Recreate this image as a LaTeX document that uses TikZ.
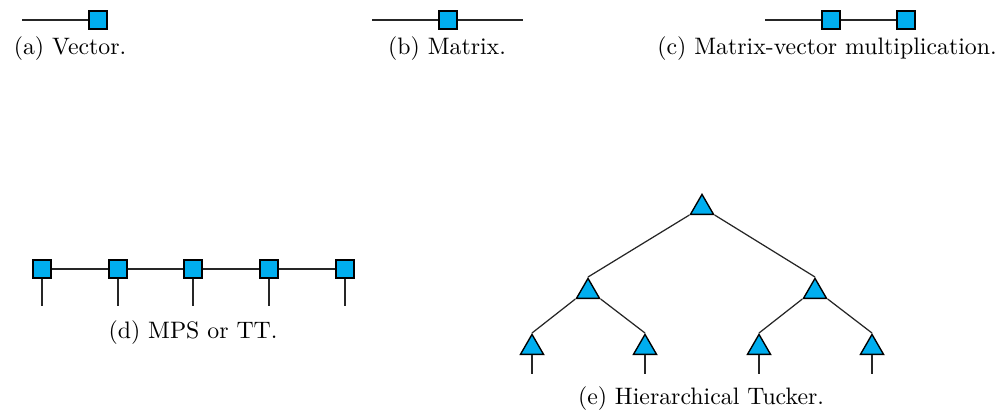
\documentclass[tikz,border=0pt]{standalone}
\usepackage{graphicx}
\usetikzlibrary{shapes.geometric}
\definecolor{tcyan}{RGB}{0,174,239}
\tikzset{
  tensor/.style={draw=black, fill=tcyan, line width=0.5pt, minimum size=6.5pt, inner sep=0pt, rectangle},
  htnode/.style={draw=black, fill=tcyan, line width=0.5pt, regular polygon, regular polygon sides=3, minimum size=9.7pt, inner sep=0pt},
  leg/.style={line width=0.45pt, black!85},
  captext/.style={inner sep=0pt, anchor=base}
}
\newcommand{\captxt}[1]{\scalebox{0.865}{#1}}
\begin{document}
\begin{tikzpicture}[x=0.3636pt, y=-0.3636pt]
\useasboundingbox (0,0) rectangle (1008,417);
% (a) vector
\coordinate (a0) at (22,20);
\node[tensor] (a1) at (98,20) {};
\draw[leg] (a0) -- (a1);
\node[captext] (capa) at (70,54) {\captxt{(a) Vector.}};
% (b) matrix
\coordinate (b0) at (372,20);
\node[tensor] (b1) at (448,20) {};
\coordinate (b2) at (523,20);
\draw[leg] (b0) -- (b1) -- (b2);
\node[captext] (capb) at (447,54) {\captxt{(b) Matrix.}};
% (c) matrix-vector
\coordinate (c0) at (765,20);
\node[tensor] (c1) at (831,20) {};
\node[tensor] (c2) at (906,20) {};
\draw[leg] (c0) -- (c1) -- (c2);
\node[captext] (capc) at (827,54) {\captxt{(c) Matrix-vector multiplication.}};
% (d) MPS
\foreach \i/\x in {1/42,2/118,3/193,4/269,5/345}{
  \node[tensor] (d\i) at (\x,269) {};
  \coordinate (dl\i) at (\x,306);
  \draw[leg] (d\i) -- (dl\i);
}
\draw[leg] (d1) -- (d2) -- (d3) -- (d4) -- (d5);
\node[captext] (capd) at (193,338) {\captxt{(d) MPS or TT.}};
% (e) HT
\node[htnode, anchor=corner 1] (r) at (702,193) {};
\node[htnode, anchor=corner 1] (m1) at (588,277) {};
\node[htnode, anchor=corner 1] (m2) at (815,277) {};
\node[htnode, anchor=corner 1] (l1) at (532,333) {};
\node[htnode, anchor=corner 1] (l2) at (645,333) {};
\node[htnode, anchor=corner 1] (l3) at (759,333) {};
\node[htnode, anchor=corner 1] (l4) at (872,333) {};
\draw[leg] (r.corner 2) -- (m1.corner 1);
\draw[leg] (r.corner 3) -- (m2.corner 1);
\draw[leg] (m1.corner 2) -- (l1.corner 1);
\draw[leg] (m1.corner 3) -- (l2.corner 1);
\draw[leg] (m2.corner 2) -- (l3.corner 1);
\draw[leg] (m2.corner 3) -- (l4.corner 1);
\foreach \i/\x in {1/532,2/645,3/759,4/872}{
  \coordinate (el\i) at (\x,374);
  \draw[leg] (l\i.side 2) -- (el\i);
}
\node[captext] (cape) at (701,404) {\captxt{(e) Hierarchical Tucker.}};
\end{tikzpicture}
\end{document}
